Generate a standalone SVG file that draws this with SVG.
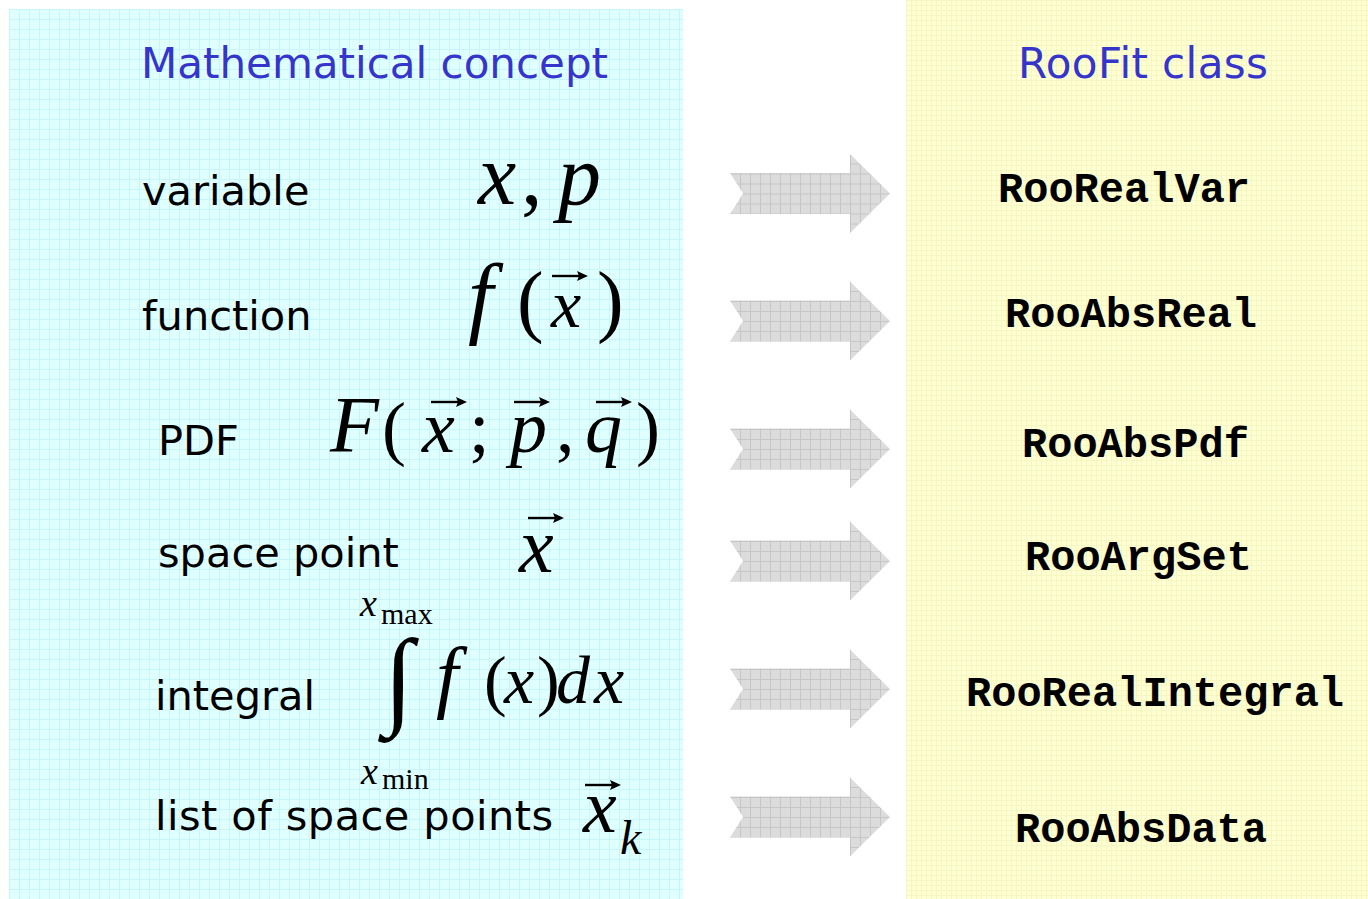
<svg xmlns="http://www.w3.org/2000/svg" xmlns:xlink="http://www.w3.org/1999/xlink" width="1368" height="899" viewBox="0 0 1368 899">
<defs>
<style>
.title{font-family:"DejaVu Sans","Noto Sans",sans-serif;font-size:42px;fill:#3535cc}
.lbl{font-family:"DejaVu Sans","Noto Sans",sans-serif;font-size:41.5px;fill:#000}
.cls{font-family:"Liberation Mono","Courier New",monospace;font-weight:bold;font-size:42px;fill:#000}
.m{font-family:"Liberation Serif","Times New Roman",serif;font-style:italic;fill:#000}
.r{font-family:"Liberation Serif","Times New Roman",serif;font-style:normal;fill:#000}
</style>
<pattern id="gridC" width="10" height="10" patternUnits="userSpaceOnUse" x="9" y="9">
<rect width="10" height="10" fill="#e0ffff"/>
<path d="M0 0.5H10M0.5 0V10" stroke="#c6f6fb" stroke-width="1" fill="none"/>
</pattern>
<pattern id="gridY" width="5" height="5" patternUnits="userSpaceOnUse" x="906" y="0">
<rect width="5" height="5" fill="#ffffd4"/>
<path d="M0 0.5H5M0.5 0V5" stroke="#f6f6c0" stroke-width="1" fill="none"/>
</pattern>
<pattern id="gridG" width="10" height="10" patternUnits="userSpaceOnUse" x="0" y="0">
<rect width="10" height="10" fill="#dcdcdc"/>
<path d="M0 0.5H10M0.5 0V10" stroke="#c6c6c6" stroke-width="1" fill="none"/>
</pattern>
<polygon id="bigArrow" points="0,-20.5 120,-20.5 120,-39.5 160,0 120,39.5 120,20.5 0,20.5 13,0" fill="url(#gridG)"/>
<g id="vec"><path d="M0 0H28" stroke="#000" stroke-width="2.4"/><path d="M25 -5L36 0L25 5L27 0Z" fill="#000"/></g>
</defs>

<rect id="panel-math" x="9" y="9" width="674" height="890" fill="url(#gridC)"/>
<rect id="panel-roofit" x="906" y="0" width="462" height="899" fill="url(#gridY)"/>

<text class="title" x="141" y="78">Mathematical concept</text>
<text class="title" x="1018" y="78" textLength="250">RooFit class</text>

<g id="concept-variable">
<text class="lbl" x="142" y="205">variable</text>
<text class="m" font-size="86" y="204"><tspan x="478">x</tspan><tspan class="r" x="521">,</tspan><tspan x="558">p</tspan></text>
</g>

<g id="concept-function">
<text class="lbl" x="142" y="330">function</text>
<text class="m" y="327"><tspan font-size="90" x="468">f</tspan><tspan class="r" font-size="80" x="517">(</tspan><tspan font-size="68" x="551">x</tspan><tspan class="r" font-size="80" x="597">)</tspan></text>
<use xlink:href="#vec" x="552" y="276"/>
</g>

<g id="concept-pdf">
<text class="lbl" x="158" y="455">PDF</text>
<text class="m" y="452"><tspan font-size="80" x="330">F</tspan><tspan class="r" font-size="72" x="382">(</tspan><tspan font-size="74" x="422">x</tspan><tspan class="r" font-size="74" x="469">;</tspan><tspan font-size="74" x="510">p</tspan><tspan class="r" font-size="74" x="556">,</tspan><tspan font-size="74" x="585">q</tspan><tspan class="r" font-size="72" x="636">)</tspan></text>
<use xlink:href="#vec" x="431" y="402"/>
<use xlink:href="#vec" x="514" y="402"/>
<use xlink:href="#vec" x="596" y="402"/>
</g>

<g id="concept-space-point">
<text class="lbl" x="158" y="567">space point</text>
<text class="m" font-size="78" x="519" y="572">x</text>
<use xlink:href="#vec" x="528" y="518"/>
</g>

<g id="concept-integral">
<text class="lbl" x="155" y="710">integral</text>
<text class="m" font-size="38" x="360" y="616">x<tspan class="r" font-size="30" x="381" y="624">max</tspan></text>
<text class="r" font-size="108" x="384" y="714">∫</text>
<text class="m" y="703"><tspan font-size="80" x="436">f</tspan><tspan class="r" font-size="68" x="484">(</tspan><tspan font-size="68" x="504">x</tspan><tspan class="r" font-size="68" x="537">)</tspan><tspan font-size="68" x="556">d</tspan><tspan font-size="68" x="594">x</tspan></text>
<text class="m" font-size="38" x="361" y="784">x<tspan class="r" font-size="30" x="382" y="789">min</tspan></text>
</g>

<g id="concept-list">
<text class="lbl" x="155" y="830" textLength="398">list of space points</text>
<text class="m" font-size="76" x="583" y="832">x</text>
<use xlink:href="#vec" x="585" y="785"/>
<text class="m" font-size="48" x="620" y="854">k</text>
</g>

<g id="connectors">
<use xlink:href="#bigArrow" x="730" y="193.5"/>
<use xlink:href="#bigArrow" x="730" y="321"/>
<use xlink:href="#bigArrow" x="730" y="449"/>
<use xlink:href="#bigArrow" x="730" y="561"/>
<use xlink:href="#bigArrow" x="730" y="689"/>
<use xlink:href="#bigArrow" x="730" y="817"/>
</g>

<g id="class-RooRealVar"><text class="cls" x="998" y="202">RooRealVar</text></g>
<g id="class-RooAbsReal"><text class="cls" x="1005" y="327">RooAbsReal</text></g>
<g id="class-RooAbsPdf"><text class="cls" x="1022" y="457">RooAbsPdf</text></g>
<g id="class-RooArgSet"><text class="cls" x="1025" y="570">RooArgSet</text></g>
<g id="class-RooRealIntegral"><text class="cls" x="966" y="706">RooRealIntegral</text></g>
<g id="class-RooAbsData"><text class="cls" x="1015" y="842">RooAbsData</text></g>
</svg>
